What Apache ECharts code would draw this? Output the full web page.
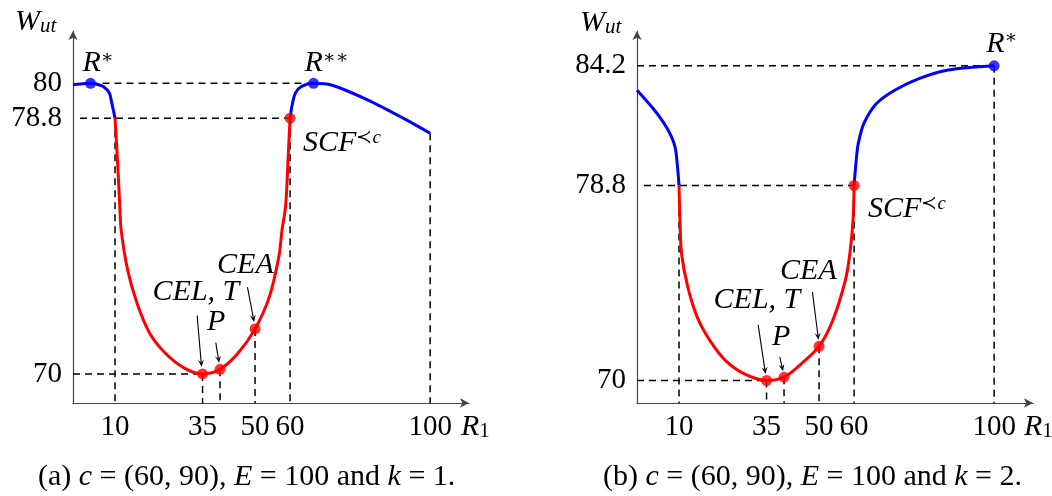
<!DOCTYPE html>
<html><head><meta charset="utf-8">
<script src="https://cdn.jsdelivr.net/npm/echarts@6/dist/echarts.min.js"></script>
<style>html,body{margin:0;padding:0;background:#fff}#c{width:1052px;height:496px}</style>
</head><body><div id="c"></div>
<script>
// ---------- data ----------
const xTicks = [10, 35, 50, 60, 100];
const yTicksA = [70, 78.8, 80];
const yTicksB = [70, 78.8, 84.2];

// panel (a): k = 1
const blueLeftA = [[-2,79.95],[0,79.98],[3,80],[5,79.96],[6.75,79.88],[8.4,79.66],[9.1,79.31],[10,78.8]];
const redA = [[10,78.8],[10.7,77.37],[11.35,75.8],[11.76,74.95],[13.6,73.58],[16.3,72.43],[19.9,71.4],[24.4,70.71],[29.8,70.2],[35,70],[40,70.16],[45.1,70.71],[50,71.55],[54.1,72.66],[56.8,74.04],[57.7,74.95],[58.75,75.81],[59.5,77.59],[60,78.8]];
const blueRightA = [[60,78.8],[60.5,79.2],[61.5,79.66],[63.1,79.88],[66.7,80],[71.8,79.94],[82.1,79.43],[92.3,78.8],[100,78.28]];
const redPointsA = [[35,70],[40,70.16],[50,71.55],[60,78.8]];   // CEL/T, P, CEA, SCF
const bluePointsA = [[3,80],[66.7,80]];                         // R*, R**
const hGuidesA = [[3,66.7,80],[0,60,78.8],[-2,35,70]];          // [xFrom, xTo, y]
const vGuidesA = [[10,78.8],[35,70],[40,70.16],[50,71.55],[60,78.8],[100,78.28]]; // [x, yTop]

// panel (b): k = 2
const blueLeftB = [[-2,83.1],[2.2,82.35],[5.46,81.67],[7.63,81.07],[8.92,80.51],[9.57,79.64],[10,78.8]];
const redB = [[10,78.8],[10.27,77.23],[10.73,75.72],[12.5,74.22],[15.2,72.86],[18.8,71.81],[23.3,70.9],[28.7,70.3],[35,70],[40,70.15],[44.9,70.75],[50,71.54],[53.9,72.71],[57.5,74.52],[58.8,75.73],[59.7,77.23],[60,78.8]];
const blueRightB = [[60,78.8],[60.7,80.09],[61.2,80.7],[62.8,81.6],[66.4,82.5],[71.6,83.1],[78.7,83.63],[86.9,84.01],[100,84.2]];
const redPointsB = [[35,70],[40,70.15],[50,71.54],[60,78.8]];
const bluePointsB = [[100,84.2]];
const hGuidesB = [[-2,100,84.2],[0,60,78.8],[-2,35,70]];
const vGuidesB = [[10,78.8],[35,70],[40,70.15],[50,71.54],[60,78.8],[100,84.2]];

// ---------- styling / layout ----------
const FONT = '"Liberation Serif","DejaVu Serif",serif';
const BLUE = '#0000ff', RED = '#ff0000';
const Y_MIN = [69.0, 68.985], Y_MAX = [81.8, 85.77];

function guideSeries(g, hs, vs){
  const out = [];
  const st = {color:'#000', width:1.5, type:[7,5]};
  hs.forEach(h => out.push({type:'line', xAxisIndex:g, yAxisIndex:g, data:[[h[0],h[2]],[h[1],h[2]]], symbol:'none', lineStyle:st, z:1, silent:true}));
  vs.forEach(v => out.push({type:'line', xAxisIndex:g, yAxisIndex:g, data:[[v[0],v[1]],[v[0],Y_MIN[g]]], symbol:'none', lineStyle:st, z:1, silent:true}));
  return out;
}
function curve(g, data, color){
  return {type:'line', xAxisIndex:g, yAxisIndex:g, data, symbol:'none', smooth:0.3,
          lineStyle:{color, width:3}, z:3, silent:true};
}
function dots(g, data, color){
  return {type:'scatter', xAxisIndex:g, yAxisIndex:g, data, symbol:'circle', symbolSize:11,
          itemStyle:{color}, z:5, silent:true};
}
const axisLineStyle = {color:'#444', width:1.2};
const option = {
  animation:false,
  backgroundColor:'#fff',
  grid:[
    {left:73, top:31, width:396, height:372, outerBoundsMode:'none'},
    {left:637, top:31, width:396, height:372, outerBoundsMode:'none'}
  ],
  xAxis:[0,1].map(i => ({
    type:'value', gridIndex:i, min:-2, max:111.1,
    axisLine:{show:true, onZero:false, lineStyle:axisLineStyle, symbol:['none','arrow'], symbolSize:[7,9]},
    axisTick:{show:false}, splitLine:{show:false},
    axisLabel:{customValues:xTicks, formatter:v => String(v), color:'#000', fontFamily:FONT, fontSize:29, margin:10}
  })),
  yAxis:[0,1].map(i => ({
    type:'value', gridIndex:i, min:Y_MIN[i], max:Y_MAX[i],
    axisLine:{show:true, onZero:false, lineStyle:axisLineStyle, symbol:['none','arrow'], symbolSize:[7,9]},
    axisTick:{show:false}, splitLine:{show:false},
    axisLabel:{customValues:i === 0 ? yTicksA : yTicksB, formatter:v => String(v), color:'#000', fontFamily:FONT, fontSize:29, margin:11}
  })),
  series:[
    ...guideSeries(0, hGuidesA, vGuidesA),
    ...guideSeries(1, hGuidesB, vGuidesB),
    curve(0, blueLeftA, BLUE), curve(0, redA, RED), curve(0, blueRightA, BLUE),
    curve(1, blueLeftB, BLUE), curve(1, redB, RED), curve(1, blueRightB, BLUE),
    dots(0, redPointsA, RED), dots(0, bluePointsA, BLUE),
    dots(1, redPointsB, RED), dots(1, bluePointsB, BLUE)
  ]
};
const chart = echarts.init(document.getElementById('c'), null, {renderer:'canvas'});
chart.setOption(option);

// ---------- text & arrows ----------
const rich = {
  i:{fontFamily:FONT, fontStyle:'italic', fontSize:30, lineHeight:30, verticalAlign:'middle', fill:'#000'},
  n:{fontFamily:FONT, fontSize:30, lineHeight:30, verticalAlign:'middle', fill:'#000'},
  s:{fontFamily:FONT, fontSize:19, lineHeight:30, verticalAlign:'top', fill:'#000'},
  si:{fontFamily:FONT, fontStyle:'italic', fontSize:19, lineHeight:30, verticalAlign:'top', fill:'#000'},
  b:{fontFamily:FONT, fontStyle:'italic', fontSize:21, lineHeight:30, verticalAlign:'bottom', fill:'#000'},
  bn:{fontFamily:FONT, fontSize:21, lineHeight:30, verticalAlign:'bottom', fill:'#000'}
};
function txt(x, y, text){
  return {type:'text', x, y, z:10, silent:true,
          style:{text, rich, align:'left', verticalAlign:'middle', fill:'#000', font:'30px ' + FONT}};
}
function arrow(x1, y1, x2, y2){
  const a = Math.atan2(y2 - y1, x2 - x1), L = 7, W = 3;
  const c = Math.cos(a), s = Math.sin(a);
  const bx = x2 - L*c, by = y2 - L*s, nx = -s, ny = c;
  const notch = [x2 - 0.6*L*c, y2 - 0.6*L*s];
  return [
    {type:'line', z:10, silent:true, shape:{x1, y1, x2:notch[0], y2:notch[1]}, style:{stroke:'#000', lineWidth:1.1}},
    {type:'polygon', z:10, silent:true, shape:{points:[[x2,y2],[bx+nx*W,by+ny*W],notch,[bx-nx*W,by-ny*W]]}, style:{fill:'#000'}}
  ];
}
// annotation layout: label offset from its point (px) and optional arrow offsets
const annotations = [
  {g:0, pt:bluePointsA[0], text:'{i|R}{s|∗}', dx:-8, dy:-20},
  {g:0, pt:bluePointsA[1], text:'{i|R}{s|∗∗}', dx:-9, dy:-20},
  {g:0, pt:redPointsA[3], text:'{i|SCF}{s|≺}{si|c}', dx:13, dy:25},
  {g:0, pt:redPointsA[0], text:'{i|CEL, T}', dx:-50, dy:-82, arr:[-5.4,-58.3,-1,-7.3]},
  {g:0, pt:redPointsA[1], text:'{i|P}', dx:-13, dy:-47, arr:[-4.3,-26.6,-1,-6.5]},
  {g:0, pt:redPointsA[2], text:'{i|CEA}', dx:-38, dy:-64, arr:[-7.6,-41.7,-1,-7]},
  {g:1, pt:bluePointsB[0], text:'{i|R}{s|∗}', dx:-8, dy:-22},
  {g:1, pt:redPointsB[3], text:'{i|SCF}{s|≺}{si|c}', dx:14, dy:24},
  {g:1, pt:redPointsB[0], text:'{i|CEL, T}', dx:-53, dy:-80, arr:[-8.4,-55.7,-1,-6.5]},
  {g:1, pt:redPointsB[1], text:'{i|P}', dx:-12, dy:-40, arr:[-4.3,-20,-1,-6]},
  {g:1, pt:redPointsB[2], text:'{i|CEA}', dx:-39, dy:-75, arr:[-6.6,-54.3,-0.6,-6.5]}
];
const graphics = [];
annotations.forEach(a => {
  const p = chart.convertToPixel({gridIndex:a.g}, a.pt);
  graphics.push(txt(p[0] + a.dx, p[1] + a.dy, a.text));
  if (a.arr) graphics.push(...arrow(p[0]+a.arr[0], p[1]+a.arr[1], p[0]+a.arr[2], p[1]+a.arr[3]));
});
// axis names and captions
graphics.push(txt(15, 22, '{i|W}{b|ut}'));
graphics.push(txt(580, 23, '{i|W}{b|ut}'));
graphics.push(txt(461, 427, '{i|R}{bn|1}'));
graphics.push(txt(1024, 427, '{i|R}{bn|1}'));
graphics.push(txt(38, 477, '{n|(a) }{i|c}{n| = (60, 90), }{i|E}{n| = 100 and }{i|k}{n| = 1.}'));
graphics.push(txt(603, 477, '{n|(b) }{i|c}{n| = (60, 90), }{i|E}{n| = 100 and }{i|k}{n| = 2.}'));
chart.setOption({graphic:graphics});
</script>
</body></html>
